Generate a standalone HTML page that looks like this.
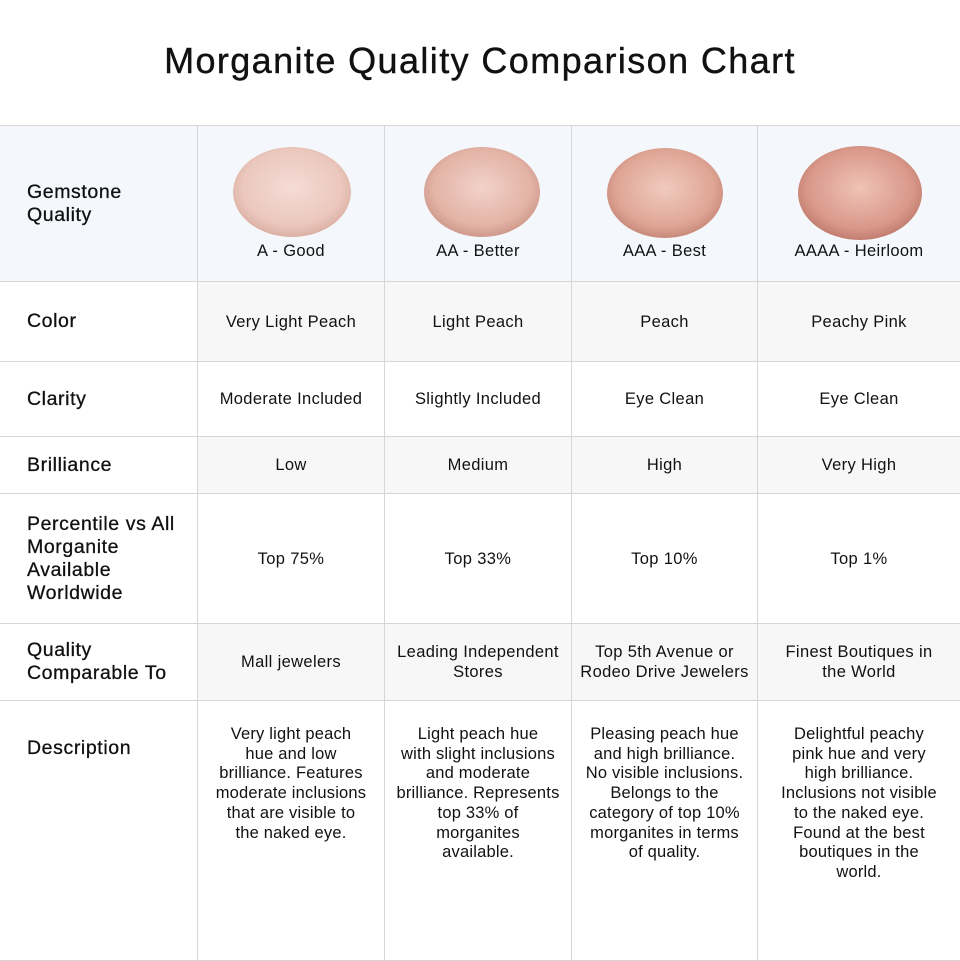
<!DOCTYPE html>
<html><head><meta charset="utf-8"><style>
body{margin:0;width:960px;height:960px;background:#fff;font-family:"Liberation Sans",sans-serif;color:#111;position:relative;overflow:hidden}
.t{position:absolute;top:40px;left:0;width:960px;text-align:center;font-size:36px;letter-spacing:1.4px;-webkit-text-stroke:0.4px #111}
.c{position:absolute;display:flex;align-items:center;justify-content:center;text-align:center;font-size:16.5px;letter-spacing:0.35px;line-height:20px;box-sizing:border-box;border-right:1px solid #d6d6d6;border-bottom:1px solid #d6d6d6}
.l{justify-content:flex-start;text-align:left;padding-left:27px;font-size:19.5px;letter-spacing:0.6px;line-height:23px;-webkit-text-stroke:0.3px #111}
.g{background:#f7f7f7}
.h{background:#f4f8fd}
</style></head><body>
<div class="t">Morganite Quality Comparison Chart</div>
<div style="position:absolute;top:125px;left:0;width:960px;border-top:1px solid #d6d6d6"></div>
<div id="tb"></div>
<svg style="position:absolute;left:0;top:0" width="960" height="300">
<defs>
<radialGradient id="g1" cx="50%" cy="45%" r="60%"><stop offset="0" stop-color="#f5dcd6"/><stop offset="0.7" stop-color="#ebc7bd"/><stop offset="1" stop-color="#d7a89a"/></radialGradient>
<radialGradient id="g2" cx="50%" cy="45%" r="60%"><stop offset="0" stop-color="#f2d2c9"/><stop offset="0.7" stop-color="#e3b3a6"/><stop offset="1" stop-color="#c78f80"/></radialGradient>
<radialGradient id="g3" cx="50%" cy="45%" r="60%"><stop offset="0" stop-color="#f0cbbf"/><stop offset="0.7" stop-color="#dfa595"/><stop offset="1" stop-color="#bf8070"/></radialGradient>
<radialGradient id="g4" cx="50%" cy="45%" r="60%"><stop offset="0" stop-color="#efc3b6"/><stop offset="0.7" stop-color="#d9988a"/><stop offset="1" stop-color="#b87365"/></radialGradient>
</defs>
<ellipse cx="292" cy="192" rx="59" ry="45" fill="url(#g1)"/>
<ellipse cx="482" cy="192" rx="58" ry="45" fill="url(#g2)"/>
<ellipse cx="665" cy="193" rx="58" ry="45" fill="url(#g3)"/>
<ellipse cx="860" cy="193" rx="62" ry="47" fill="url(#g4)"/>
</svg>
<script>
var cols=[0,198,385,572,758,961];
var rows=[126,282,362,437,494,624,701,961];
var data=[
["Gemstone<br>Quality","","","",""],
["Color","Very Light Peach","Light Peach","Peach","Peachy Pink"],
["Clarity","Moderate Included","Slightly Included","Eye Clean","Eye Clean"],
["Brilliance","Low","Medium","High","Very High"],
["Percentile vs All<br>Morganite<br>Available<br>Worldwide","Top 75%","Top 33%","Top 10%","Top 1%"],
["Quality<br>Comparable To","Mall jewelers","Leading Independent<br>Stores","Top 5th Avenue or<br>Rodeo Drive Jewelers","Finest Boutiques in<br>the World"],
["Description","Very light peach<br>hue and low<br>brilliance. Features<br>moderate inclusions<br>that are visible to<br>the naked eye.","Light peach hue<br>with slight inclusions<br>and moderate<br>brilliance. Represents<br>top 33% of<br>morganites<br>available.","Pleasing peach hue<br>and high brilliance.<br>No visible inclusions.<br>Belongs to the<br>category of top 10%<br>morganites in terms<br>of quality.","Delightful peachy<br>pink hue and very<br>high brilliance.<br>Inclusions not visible<br>to the naked eye.<br>Found at the best<br>boutiques in the<br>world."]];
var gl=["A - Good","AA - Better","AAA - Best","AAAA - Heirloom"];
var h="";
for(var r=0;r<7;r++)for(var c=0;c<5;c++){
 var cls="c"+(c==0?" l":"")+(r==0?" h":((r%2==1&&c>0)?" g":""));
 var st="left:"+cols[c]+"px;top:"+rows[r]+"px;width:"+(cols[c+1]-cols[c])+"px;height:"+(rows[r+1]-rows[r])+"px;";
 var txt=data[r][c];
 if(r==0&&c>0){st+="align-items:flex-end;padding-bottom:20px;";txt=gl[c-1];}
 if(r==6){st+="align-items:flex-start;padding-top:"+(c==0?36:24)+"px;";}
 if(r==6&&c>0)st+="line-height:19.7px;letter-spacing:0.2px;";
 h+='<div class="'+cls+'" style="'+st+'">'+txt+'</div>';
}
document.getElementById("tb").innerHTML=h;
</script>
</body></html>
